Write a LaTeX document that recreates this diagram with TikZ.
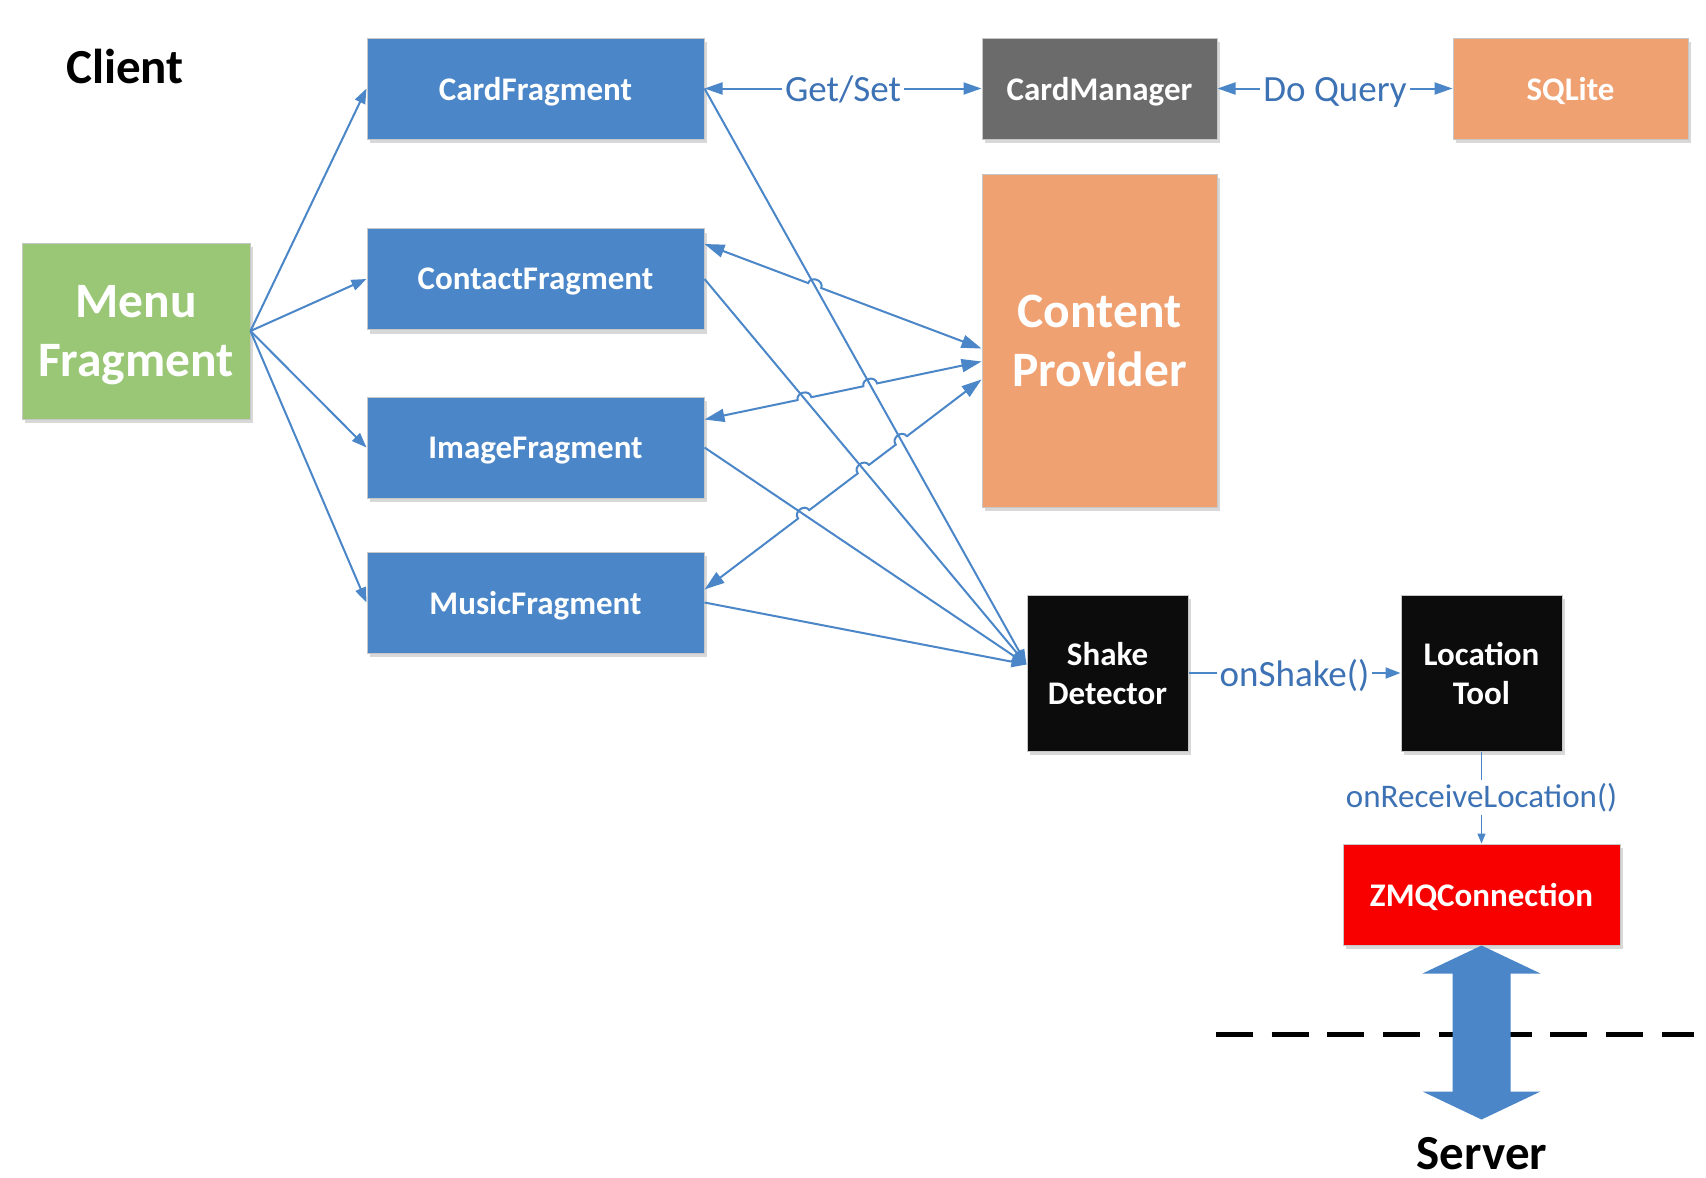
\documentclass[tikz,border=0pt]{standalone}
\usepackage{fontspec}
\setmainfont{Carlito}
\usetikzlibrary{arrows.meta,shadows,calc}

\definecolor{fblue}{HTML}{4A86C8}
\definecolor{lblue}{HTML}{3D72B4}
\definecolor{mgreen}{HTML}{9AC776}
\definecolor{porange}{HTML}{F0A171}
\definecolor{mgrey}{HTML}{6B6B6B}
\definecolor{sblack}{HTML}{0C0C0C}
\definecolor{zred}{HTML}{F80000}

\begin{document}
\begin{tikzpicture}[x=1pt,y=-1pt,
  box/.style={rectangle, draw=black!22, line width=1pt, text=white,
    font=\bfseries\fontsize{33}{39}\selectfont, align=center, inner sep=0pt,
    text depth=0pt,
    drop shadow={shadow xshift=3pt, shadow yshift=-4pt, opacity=0.3}},
  bigbox/.style={box, font=\bfseries\fontsize{49.5}{59}\selectfont},
  conn/.style={draw=fblue, line width=2pt},
  arr/.style={-{Triangle[length=15pt,width=11pt]}},
  darr/.style={{Triangle[length=18pt,width=12pt]}-{Triangle[length=18pt,width=12pt]}},
  cparr/.style={{Triangle[length=20pt,width=13pt]}-{Triangle[length=20pt,width=13pt]}},
  lab/.style={fill=white, inner xsep=3pt, inner ysep=6pt, text height=26pt, text depth=0pt,
    text=lblue, font=\fontsize{37}{44}\selectfont},
  hop/.style={bend left=90, looseness=1.5}
]
\fill[white] (0,0) rectangle (1706,1178);
\useasboundingbox (0,0) rectangle (1706,1178);

% texts
\node[font=\bfseries\fontsize{49}{58}\selectfont, anchor=base] (client) at (125,83) {Client};
\node[font=\bfseries\fontsize{49}{58}\selectfont, anchor=base] (server) at (1482,1169) {Server};

% boxes
\node[bigbox, fill=mgreen, minimum width=228pt, minimum height=176pt] (menu) at (136,331) {Menu\\Fragment};
\node[box, fill=fblue, minimum width=337pt, minimum height=101pt] (card) at (535.5,88.5) {CardFragment};
\node[box, fill=fblue, minimum width=337pt, minimum height=101pt] (contact) at (535.5,279) {ContactFragment};
\node[box, fill=fblue, minimum width=337pt, minimum height=101pt] (image) at (535.5,447.5) {ImageFragment};
\node[box, fill=fblue, minimum width=337pt, minimum height=101pt] (music) at (535.5,602.5) {MusicFragment};
\node[box, fill=mgrey, minimum width=235pt, minimum height=101pt] (cardmgr) at (1099.5,88.5) {CardManager};
\node[box, fill=porange, minimum width=235pt, minimum height=101pt] (sqlite) at (1570.5,88.5) {SQLite};
\node[bigbox, fill=porange, minimum width=235pt, minimum height=333pt] (cp) at (1099.5,340.5) {Content\\Provider};
\node[box, fill=sblack, minimum width=161pt, minimum height=156pt] (shake) at (1107.5,673) {Shake\\Detector};
\node[box, fill=sblack, minimum width=161pt, minimum height=156pt] (loc) at (1481.5,673) {Location\\Tool};
\node[box, fill=zred, minimum width=277pt, minimum height=101pt] (zmq) at (1481.5,894.5) {ZMQConnection};

% menu -> fragments
\draw[conn, arr] (menu.east) -- (card.west);
\draw[conn, arr] (menu.east) -- (contact.west);
\draw[conn, arr] (menu.east) -- (image.west);
\draw[conn, arr] (menu.east) -- (music.west);

% top row
\draw[conn, darr] (card.east) -- node[lab] {Get/Set} (cardmgr.west);
\draw[conn, darr] (cardmgr.east) -- node[lab] {Do Query} (sqlite.west);

% coordinates
\coordinate (sk) at ($(shake.north west)+(0,70)$);
\coordinate (ct0) at ($(contact.north east)+(0,16)$);
\coordinate (im0) at ($(image.north east)+(0,23)$);
\coordinate (mu0) at ($(music.north east)+(0,38)$);
\coordinate (cp1) at ($(cp.north west)+(0,175)$);
\coordinate (cp2) at ($(cp.north west)+(0,188)$);
\coordinate (cp3) at ($(cp.north west)+(0,206)$);

% fragments -> shake detector
\draw[conn, arr] (card.east) -- (sk);
\draw[conn, arr] (contact.east) -- (sk);
\draw[conn, arr] (image.east) -- (sk);
\draw[conn, arr] (music.east) -- (sk);

% crossing points
\coordinate (a1) at (intersection of card.east--sk and ct0--cp1);
\coordinate (b1) at (intersection of contact.east--sk and im0--cp2);
\coordinate (b2) at (intersection of card.east--sk and im0--cp2);
\coordinate (c1) at (intersection of image.east--sk and mu0--cp3);
\coordinate (c2) at (intersection of contact.east--sk and mu0--cp3);
\coordinate (c3) at (intersection of card.east--sk and mu0--cp3);

% fragments <-> content provider with line hops
\draw[conn, cparr] (ct0) -- ($(a1)!7pt!(ct0)$) to[hop] ($(a1)!7pt!(cp1)$) -- (cp1);
\draw[conn, cparr] (im0) -- ($(b1)!7pt!(im0)$) to[hop] ($(b1)!7pt!(cp2)$)
  -- ($(b2)!7pt!(im0)$) to[hop] ($(b2)!7pt!(cp2)$) -- (cp2);
\draw[conn, cparr] (mu0) -- ($(c1)!7pt!(mu0)$) to[hop] ($(c1)!7pt!(cp3)$)
  -- ($(c2)!7pt!(mu0)$) to[hop] ($(c2)!7pt!(cp3)$)
  -- ($(c3)!7pt!(mu0)$) to[hop] ($(c3)!7pt!(cp3)$) -- (cp3);

% shake -> location -> zmq
\draw[conn, arr] (shake.east) -- node[lab] {onShake()} (loc.west);
\draw[draw=fblue, line width=1.3pt, -{Triangle[length=10pt,width=8pt]}] (loc.south) --
  node[fill=white, inner sep=3pt, text=lblue, font=\fontsize{33}{40}\selectfont] {onReceiveLocation()} (zmq.north);

% client / server boundary
\draw[black, line width=5pt, dash pattern=on 37pt off 18.7pt] (1216,1034) -- (1694,1034);

% big double arrow
\fill[fblue] (zmq.south) -- ++(59,28) -- ++(-30,0) -- ++(0,118) -- ++(30,0)
  -- ++(-59,28) -- ++(-59,-28) -- ++(30,0) -- ++(0,-118) -- ++(-30,0) -- cycle;
\end{tikzpicture}
\end{document}
